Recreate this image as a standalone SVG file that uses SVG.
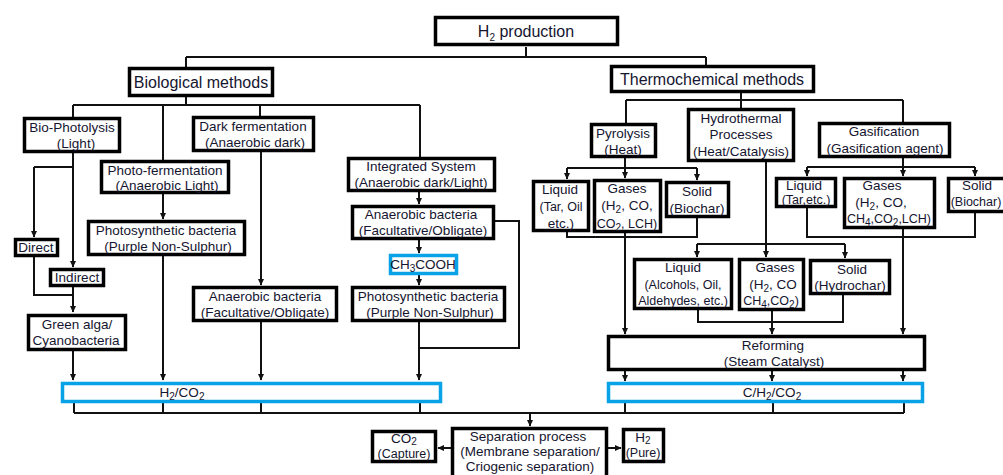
<svg xmlns="http://www.w3.org/2000/svg" width="1003" height="475" viewBox="0 0 1003 475">
<defs>
<marker id="ah" markerWidth="7" markerHeight="7" refX="6" refY="3.5" orient="auto" markerUnits="userSpaceOnUse">
<path d="M0,0.5 L6.5,3.5 L0,6.5 Z" fill="#111"/>
</marker>
<style>
.b{fill:#fff;stroke:#000;stroke-width:3.5}
.bl{fill:#fff;stroke:#0AA2E6;stroke-width:3.5}
text{font-family:"Liberation Sans",Arial,sans-serif;font-size:13.5px;fill:#151530;text-anchor:middle}
.h{font-size:16px}
.t{font-size:12.5px}
.s{font-size:10px}
.c{fill:none;stroke:#111;stroke-width:2}
.a{marker-end:url(#ah)}
</style>
</defs>
<rect width="1003" height="475" fill="#fff"/>

<g id="connectors">
<path class="c" d="M526,47 V57 M186,57 H706 M186,57 V67 M706,57 V65"/>
<path class="c" d="M186,97 V105 M73,105 H420 M73,105 V117 M163,105 V160 M260,105 V116 M420,105 V157"/>
<path class="c a" d="M73,153 V267"/>
<path class="c" d="M34,167 H73"/>
<path class="c a" d="M34,167 V237"/>
<path class="c" d="M34,257 V295 H73"/>
<path class="c a" d="M73,287 V312"/>
<path class="c a" d="M73,351 V380"/>
<path class="c a" d="M163,194 V219"/>
<path class="c a" d="M163,256 V380"/>
<path class="c a" d="M261,152 V285"/>
<path class="c a" d="M261,322 V380"/>
<path class="c a" d="M419,192 V204"/>
<path class="c a" d="M419,240 V253"/>
<path class="c a" d="M419,275 V285"/>
<path class="c a" d="M419,322 V380"/>
<path class="c" d="M495,221 H519 V348 H419"/>
<path class="c" d="M74,403 V413 M163,403 V413 M261,403 V413 M420,403 V413 M74,413 H904 M625,403 V413 M773,403 V413 M904,403 V413"/>
<path class="c a" d="M530,413 V426"/>
<path class="c a" d="M451,448 H438"/>
<path class="c a" d="M608,448 H621"/>
<path class="c" d="M741,93 V100 M626,100 H903 M626,100 V123 M741,100 V108 M903,100 V122"/>
<path class="c" d="M625,158 V168 M567,168 H697"/>
<path class="c a" d="M567,168 V179"/>
<path class="c a" d="M625,168 V178"/>
<path class="c a" d="M697,168 V180"/>
<path class="c" d="M567,232 V237 H697 V218"/>
<path class="c a" d="M625,233 V334"/>
<path class="c" d="M766,162 V244 M697,244 H845"/>
<path class="c a" d="M697,244 V257"/>
<path class="c a" d="M766,244 V257"/>
<path class="c a" d="M845,244 V258"/>
<path class="c" d="M698,310 V322 H843 V295"/>
<path class="c a" d="M772,311 V334"/>
<path class="c" d="M903,158 V167 M807,167 H975"/>
<path class="c a" d="M807,167 V176"/>
<path class="c a" d="M903,167 V176"/>
<path class="c a" d="M975,167 V176"/>
<path class="c" d="M807,208 V237 H975 V213"/>
<path class="c a" d="M903,229 V334"/>
<path class="c a" d="M625,371 V381"/>
<path class="c a" d="M772,371 V381"/>
<path class="c a" d="M903,371 V381"/>
</g>

<g id="h2production"><rect class="b" x="435.5" y="17.5" width="182" height="27"/><text class="h" x="526" y="37">H<tspan class="s" dy="4">2</tspan><tspan dy="-4"> production</tspan></text></g>
<g id="biological"><rect class="b" x="129.5" y="68.5" width="143" height="27"/><text class="h" x="201" y="88">Biological methods</text></g>
<g id="thermochemical"><rect class="b" x="611.5" y="66.5" width="202" height="25"/><text class="h" x="712" y="85">Thermochemical methods</text></g>

<g id="biophotolysis"><rect class="b" x="24.5" y="118.5" width="95" height="33"/><text x="72" y="132">Bio-Photolysis</text><text x="76" y="148">(Light)</text></g>
<g id="darkfermentation"><rect class="b" x="193.5" y="117.5" width="120" height="33"/><text x="253" y="131">Dark fermentation</text><text x="255" y="147">(Anaerobic dark)</text></g>
<g id="photofermentation"><rect class="b" x="101.5" y="161.5" width="127" height="31"/><text x="165" y="175">Photo-fermentation</text><text x="167" y="190">(Anaerobic Light)</text></g>
<g id="photosynthetic1"><rect class="b" x="88.5" y="221.5" width="156" height="33"/><text x="166" y="235">Photosynthetic bacteria</text><text x="168" y="251">(Purple Non-Sulphur)</text></g>
<g id="direct"><rect class="b" x="15.5" y="239.5" width="42" height="16"/><text x="36" y="252">Direct</text></g>
<g id="indirect"><rect class="b" x="50.5" y="269.5" width="53" height="16"/><text x="77" y="282">Indirect</text></g>
<g id="greenalga"><rect class="b" x="28.5" y="315.5" width="97" height="34"/><text x="77" y="329">Green alga/</text><text x="76" y="345">Cyanobacteria</text></g>
<g id="anaerobic1"><rect class="b" x="193.5" y="287.5" width="143" height="33"/><text x="265" y="301">Anaerobic bacteria</text><text x="265" y="317">(Facultative/Obligate)</text></g>
<g id="integrated"><rect class="b" x="348.5" y="158.5" width="146" height="32"/><text x="421" y="171">Integrated System</text><text x="421" y="187">(Anaerobic dark/Light)</text></g>
<g id="anaerobic2"><rect class="b" x="352.5" y="206.5" width="141" height="32"/><text x="421" y="219">Anaerobic bacteria</text><text x="423" y="235">(Facultative/Obligate)</text></g>
<g id="ch3cooh"><rect class="bl" x="390.5" y="255.5" width="66" height="18"/><text x="423" y="269">CH<tspan class="s" dy="3">3</tspan><tspan dy="-3">COOH</tspan></text></g>
<g id="photosynthetic2"><rect class="b" x="352.5" y="287.5" width="152" height="33"/><text x="428" y="301">Photosynthetic bacteria</text><text x="430" y="317">(Purple Non-Sulphur)</text></g>
<g id="h2co2"><rect class="bl" x="62.5" y="383.5" width="378" height="18"/><text x="182" y="397">H<tspan class="s" dy="3">2</tspan><tspan dy="-3">/CO</tspan><tspan class="s" dy="3">2</tspan></text></g>

<g id="pyrolysis"><rect class="b" x="591.5" y="124.5" width="64" height="32"/><text x="623" y="138">Pyrolysis</text><text x="623" y="154">(Heat)</text></g>
<g id="hydrothermal"><rect class="b" x="688.5" y="109.5" width="105" height="51"/><text x="741" y="123">Hydrothermal</text><text x="741" y="139">Processes</text><text x="741" y="156">(Heat/Catalysis)</text></g>
<g id="gasification"><rect class="b" x="819.5" y="123.5" width="130" height="33"/><text x="884" y="136">Gasification</text><text x="885" y="153">(Gasification agent)</text></g>
<g id="pyroliquid"><rect class="b" x="533.5" y="181.5" width="55" height="49"/><text x="560" y="194">Liquid</text><text class="t" x="561" y="211">(Tar, Oil</text><text x="561" y="228">etc.)</text></g>
<g id="pyrogases"><rect class="b" x="594.5" y="180.5" width="66" height="51"/><text x="627" y="193">Gases</text><text x="627" y="210">(H<tspan class="s" dy="3">2</tspan><tspan dy="-3">, CO,</tspan></text><text class="t" x="627" y="228">CO<tspan class="s" dy="3">2</tspan><tspan dy="-3">, LCH)</tspan></text></g>
<g id="pyrosolid"><rect class="b" x="666.5" y="182.5" width="62" height="34"/><text x="697" y="196">Solid</text><text x="697" y="213">(Biochar)</text></g>
<g id="hydroliquid"><rect class="b" x="634.5" y="259.5" width="97" height="49"/><text x="683" y="272">Liquid</text><text class="t" x="683" y="289">(Alcohols, Oil,</text><text class="t" x="683" y="305">Aldehydes, etc.)</text></g>
<g id="hydrogases"><rect class="b" x="739.5" y="259.5" width="64" height="50"/><text x="775" y="272">Gases</text><text x="773" y="289">(H<tspan class="s" dy="3">2</tspan><tspan dy="-3">, CO</tspan></text><text class="t" x="771" y="305">CH<tspan class="s" dy="3">4</tspan><tspan dy="-3">,CO</tspan><tspan class="s" dy="3">2</tspan><tspan dy="-3">)</tspan></text></g>
<g id="hydrosolid"><rect class="b" x="810.5" y="260.5" width="79" height="33"/><text x="852" y="274">Solid</text><text x="850" y="290">(Hydrochar)</text></g>
<g id="gasliquid"><rect class="b" x="776.5" y="178.5" width="59" height="28"/><text x="804" y="190">Liquid</text><text class="t" x="806" y="204">(Tar,etc.)</text></g>
<g id="gasgases"><rect class="b" x="844.5" y="178.5" width="90" height="49"/><text x="882" y="190">Gases</text><text x="881" y="207">(H<tspan class="s" dy="3">2</tspan><tspan dy="-3">, CO,</tspan></text><text class="t" x="889" y="223">CH<tspan class="s" dy="3">4</tspan><tspan dy="-3">,CO</tspan><tspan class="s" dy="3">2</tspan><tspan dy="-3">,LCH)</tspan></text></g>
<g id="gassolid"><rect class="b" x="948.5" y="178.5" width="70" height="33"/><text x="977" y="190">Solid</text><text class="t" x="976" y="206">(Biochar)</text></g>
<g id="reforming"><rect class="b" x="608.5" y="336.5" width="316" height="33"/><text x="773" y="350">Reforming</text><text x="774" y="366">(Steam Catalyst)</text></g>
<g id="ch2co2"><rect class="bl" x="608.5" y="383.5" width="314" height="18"/><text x="772" y="397">C/H<tspan class="s" dy="3">2</tspan><tspan dy="-3">/CO</tspan><tspan class="s" dy="3">2</tspan></text></g>

<g id="separation"><rect class="b" x="452.5" y="428.5" width="154" height="60"/><text x="528" y="441">Separation process</text><text x="530" y="456">(Membrane separation/</text><text x="530" y="471">Criogenic separation)</text></g>
<g id="co2capture"><rect class="b" x="372.5" y="431.5" width="63" height="30"/><text x="404" y="443">CO<tspan class="s" dy="2">2</tspan></text><text class="t" x="404" y="458">(Capture)</text></g>
<g id="h2pure"><rect class="b" x="623.5" y="429.5" width="40" height="32"/><text x="643" y="442">H<tspan class="s" dy="2">2</tspan></text><text class="t" x="643" y="457">(Pure)</text></g>
</svg>
